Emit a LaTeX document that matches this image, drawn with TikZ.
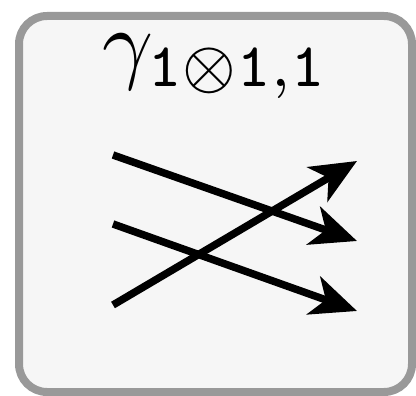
\documentclass[tikz,border=0pt]{standalone}
\usepackage{graphicx}
\usepackage{xcolor}
\usepackage{tikz}
\usetikzlibrary{arrows.meta,positioning}
\definecolor{panelgray}{HTML}{F6F6F6}
\definecolor{framegray}{HTML}{999999}
\tikzset{
  panel/.style={draw=framegray, fill=panelgray, line width=8pt, rounded corners=28pt},
  strand/.style={-{Stealth[length=46pt, width=40pt, inset=13pt]}, line width=7.5pt, draw=black},
  titletext/.style={inner sep=0pt, anchor=base}
}

\begin{document}
\begin{tikzpicture}[x=1pt, y=-1pt]
  \useasboundingbox (0,0) rectangle (416,396);
  \draw[panel] (19,16) rectangle (412,392);
  \node[titletext] (title) at (216,73) {\scalebox{8.9}{$\gamma_{\mathtt{1}\otimes\mathtt{1,1}}$}};

  \coordinate (topin) at (113,155);
  \coordinate (midin) at (113,224);
  \coordinate (lowin) at (113,305);
  \coordinate (topout) at (357,161);
  \coordinate (midout) at (357,241);
  \coordinate (lowout) at (357,311);

  \draw[strand] (topin) -- (midout);
  \draw[strand] (midin) -- (lowout);
  \draw[strand] (lowin) -- (topout);
\end{tikzpicture}
\end{document}
